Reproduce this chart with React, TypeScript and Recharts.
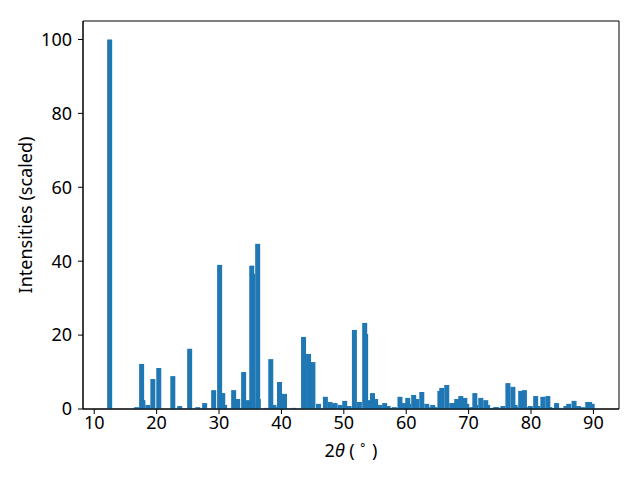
import { BarChart, Bar, XAxis, YAxis, Label, ReferenceArea } from 'recharts';

// peak positions (2theta, degrees) and scaled intensities
const twoTheta = [
  12.48, 16.8, 17.6, 17.8, 18.6, 19.4, 20.35, 22.6, 23.7, 25.3,
  26.6, 27.7, 29.15, 30.1, 30.6, 30.9, 32.35, 33.0, 33.95, 34.4,
  34.6, 35.25, 35.4, 36.2, 36.3, 37.7, 38.3, 38.8, 38.9, 39.7,
  40.5, 41.95, 43.55, 44.35, 45.05, 45.95, 47.05, 47.8, 48.0, 48.6,
  49.4, 50.15, 50.85, 51.3, 51.7, 52.2, 52.5, 53.35, 53.5, 53.8,
  54.6, 55.1, 55.75, 56.55, 57.1, 57.5, 58.1, 59.0, 59.6, 60.25,
  60.4, 61.2, 61.7, 62.5, 63.3, 63.45, 64.25, 64.6, 65.4, 65.7,
  66.5, 67.3, 67.5, 68.1, 68.75, 69.4, 69.7, 70.5, 71.0, 71.15,
  71.95, 72.75, 73.05, 73.4, 74.3, 74.5, 75.5, 76.3, 77.1, 77.45,
  77.55, 78.35, 78.95, 79.3, 79.9, 80.75, 81.1, 81.9, 82.7, 83.0,
  83.3, 84.1, 84.45, 85.6, 85.9, 86.05, 86.9, 87.6, 88.3, 89.1,
  89.4, 89.8,
];

const intensity = [
  100, 0.5, 12.2, 2.4, 1.1, 8.1, 11.1, 8.9, 0.8, 16.3,
  0.5, 1.6, 5.1, 39.0, 4.3, 1.1, 5.1, 2.7, 10.0, 1.6,
  2.4, 38.8, 36.6, 44.7, 2.7, 0.3, 13.5, 1.1, 0.5, 7.3,
  4.1, 0.3, 19.5, 14.9, 12.7, 1.4, 3.3, 1.9, 1.4, 1.6,
  1.1, 2.2, 0.8, 0.3, 21.4, 0.3, 1.9, 23.3, 20.3, 2.4,
  4.3, 2.7, 1.1, 1.6, 0.8, 0.3, 0.5, 3.3, 1.6, 3.0,
  1.4, 3.8, 2.7, 4.6, 1.4, 0.5, 1.1, 0.5, 4.9, 5.7,
  6.5, 1.6, 1.6, 2.7, 3.5, 3.0, 1.4, 0.5, 4.3, 1.1,
  3.0, 2.4, 1.1, 0.3, 0.5, 0.5, 0.8, 7.0, 6.0, 1.1,
  0.5, 4.9, 5.1, 0.5, 0.8, 3.5, 0.8, 3.3, 3.5, 0.5,
  0.3, 1.6, 0.3, 0.8, 0.3, 1.4, 2.2, 0.8, 0.5, 1.9,
  1.9, 1.4,
];

const xTicks = [10, 20, 30, 40, 50, 60, 70, 80, 90];
const yTicks = [0, 20, 40, 60, 80, 100];
const xDomain = [8.2, 94.1];
const yDomain = [0, 105];

const data = twoTheta.map((t, i) => ({ t, v: intensity[i] }));

const FONT = '"Noto Sans", "Open Sans", sans-serif';
const FS = 18;
const BLUE = '#1f77b4';
const BAR_PX = 5; // 0.8 deg wide at this scale

// recharts squeezes bars on a dense numeric axis, so keep its centre and redraw at fixed width
function PeakBar(props: any) {
  const { x, y, width, height } = props;
  if (height == null || isNaN(height)) return null;
  const cx = x + (width || 0) / 2;
  return <rect x={cx - BAR_PX / 2} y={y} width={BAR_PX} height={height} fill={BLUE} />;
}

const tickStyle = { fill: '#000', fontSize: FS, fontFamily: FONT };

export default function App() {
  return (
    <div style={{ position: 'absolute', left: 0, top: 0, width: 640, height: 480, background: '#fff' }}>
      <BarChart
        width={640}
        height={480}
        data={data}
        margin={{ top: 21, right: 21, bottom: 0, left: 0 }}
        barCategoryGap={0}
        barGap={0}
      >
        <XAxis
          dataKey="t"
          type="number"
          domain={xDomain}
          ticks={xTicks}
          allowDataOverflow
          height={71}
          tick={tickStyle}
          tickSize={5}
          tickMargin={2}
          stroke="#000"
          axisLine={{ stroke: '#000', strokeWidth: 1 }}
          tickLine={{ stroke: '#000', strokeWidth: 1 }}
        >
          <Label
            content={({ viewBox }: any) => (
              <text
                x={viewBox.x + viewBox.width / 2}
                y={viewBox.y + 48}
                textAnchor="middle"
                fontSize={FS}
                fontFamily={FONT}
                fill="#000"
                style={{ whiteSpace: 'pre' }}
              >
                2<tspan fontStyle="italic">θ</tspan>{' ( '}
                <tspan fontSize={12} dy={-8}>∘</tspan>
                <tspan dy={8}>{' )'}</tspan>
              </text>
            )}
          />
        </XAxis>
        <YAxis
          type="number"
          domain={yDomain}
          ticks={yTicks}
          width={83}
          tick={tickStyle}
          tickSize={5}
          tickMargin={6}
          axisLine={{ stroke: '#000', strokeWidth: 1 }}
          tickLine={{ stroke: '#000', strokeWidth: 1 }}
        >
          <Label
            content={({ viewBox }: any) => {
              const cx = 25;
              const cy = viewBox.y + viewBox.height / 2;
              return (
                <text
                  x={cx}
                  y={cy}
                  transform={`rotate(-90 ${cx} ${cy})`}
                  textAnchor="middle"
                  dominantBaseline="central"
                  fontSize={FS}
                  fontFamily={FONT}
                  fill="#000"
                >
                  Intensities (scaled)
                </text>
              );
            }}
          />
        </YAxis>
        <Bar dataKey="v" barSize={BAR_PX} shape={PeakBar} isAnimationActive={false} />
        {/* axes frame */}
        <ReferenceArea
          x1={xDomain[0]}
          x2={xDomain[1]}
          y1={yDomain[0]}
          y2={yDomain[1]}
          fill="none"
          fillOpacity={0}
          stroke="#000"
          strokeWidth={1}
          ifOverflow="visible"
        />
      </BarChart>
    </div>
  );
}
